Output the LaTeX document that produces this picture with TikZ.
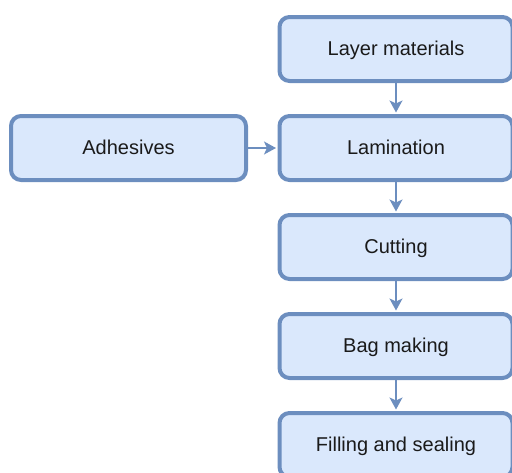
\documentclass[tikz,border=0pt]{standalone}
\usepackage{fontspec}
\setmainfont{Liberation Sans}
\usetikzlibrary{arrows.meta}
\definecolor{boxfill}{HTML}{DAE8FC}
\definecolor{boxline}{HTML}{6C8EBF}
\definecolor{txt}{HTML}{1A1A1A}
\begin{document}
\begin{tikzpicture}[x=1pt,y=-1pt,
  stepbox/.style={draw=boxline, fill=boxfill, line width=4pt, rounded corners=10pt,
    minimum width=233pt, minimum height=64pt, inner sep=0pt,
    text height=14pt, text depth=2pt,
    text=txt, font=\fontsize{20}{23}\selectfont},
  flow/.style={draw=boxline, line width=1.6pt, shorten >=1.5pt,
    -{Stealth[length=12pt,width=13pt,inset=3pt]}}]
  \useasboundingbox (0,0) rectangle (512,472);
  \node[stepbox] (layer) at (396,49) {Layer materials};
  \node[stepbox] (lam) at (396,148) {Lamination};
  \node[stepbox] (cut) at (396,247) {Cutting};
  \node[stepbox] (bag) at (396,346) {Bag making};
  \node[stepbox] (fill) at (396,445) {Filling and sealing};
  \node[stepbox, minimum width=235pt] (adh) at (128.5,148) {Adhesives};
  \draw[flow] (layer) -- (lam);
  \draw[flow] (lam) -- (cut);
  \draw[flow] (cut) -- (bag);
  \draw[flow] (bag) -- (fill);
  \draw[flow] (adh) -- (lam);
\end{tikzpicture}
\end{document}
